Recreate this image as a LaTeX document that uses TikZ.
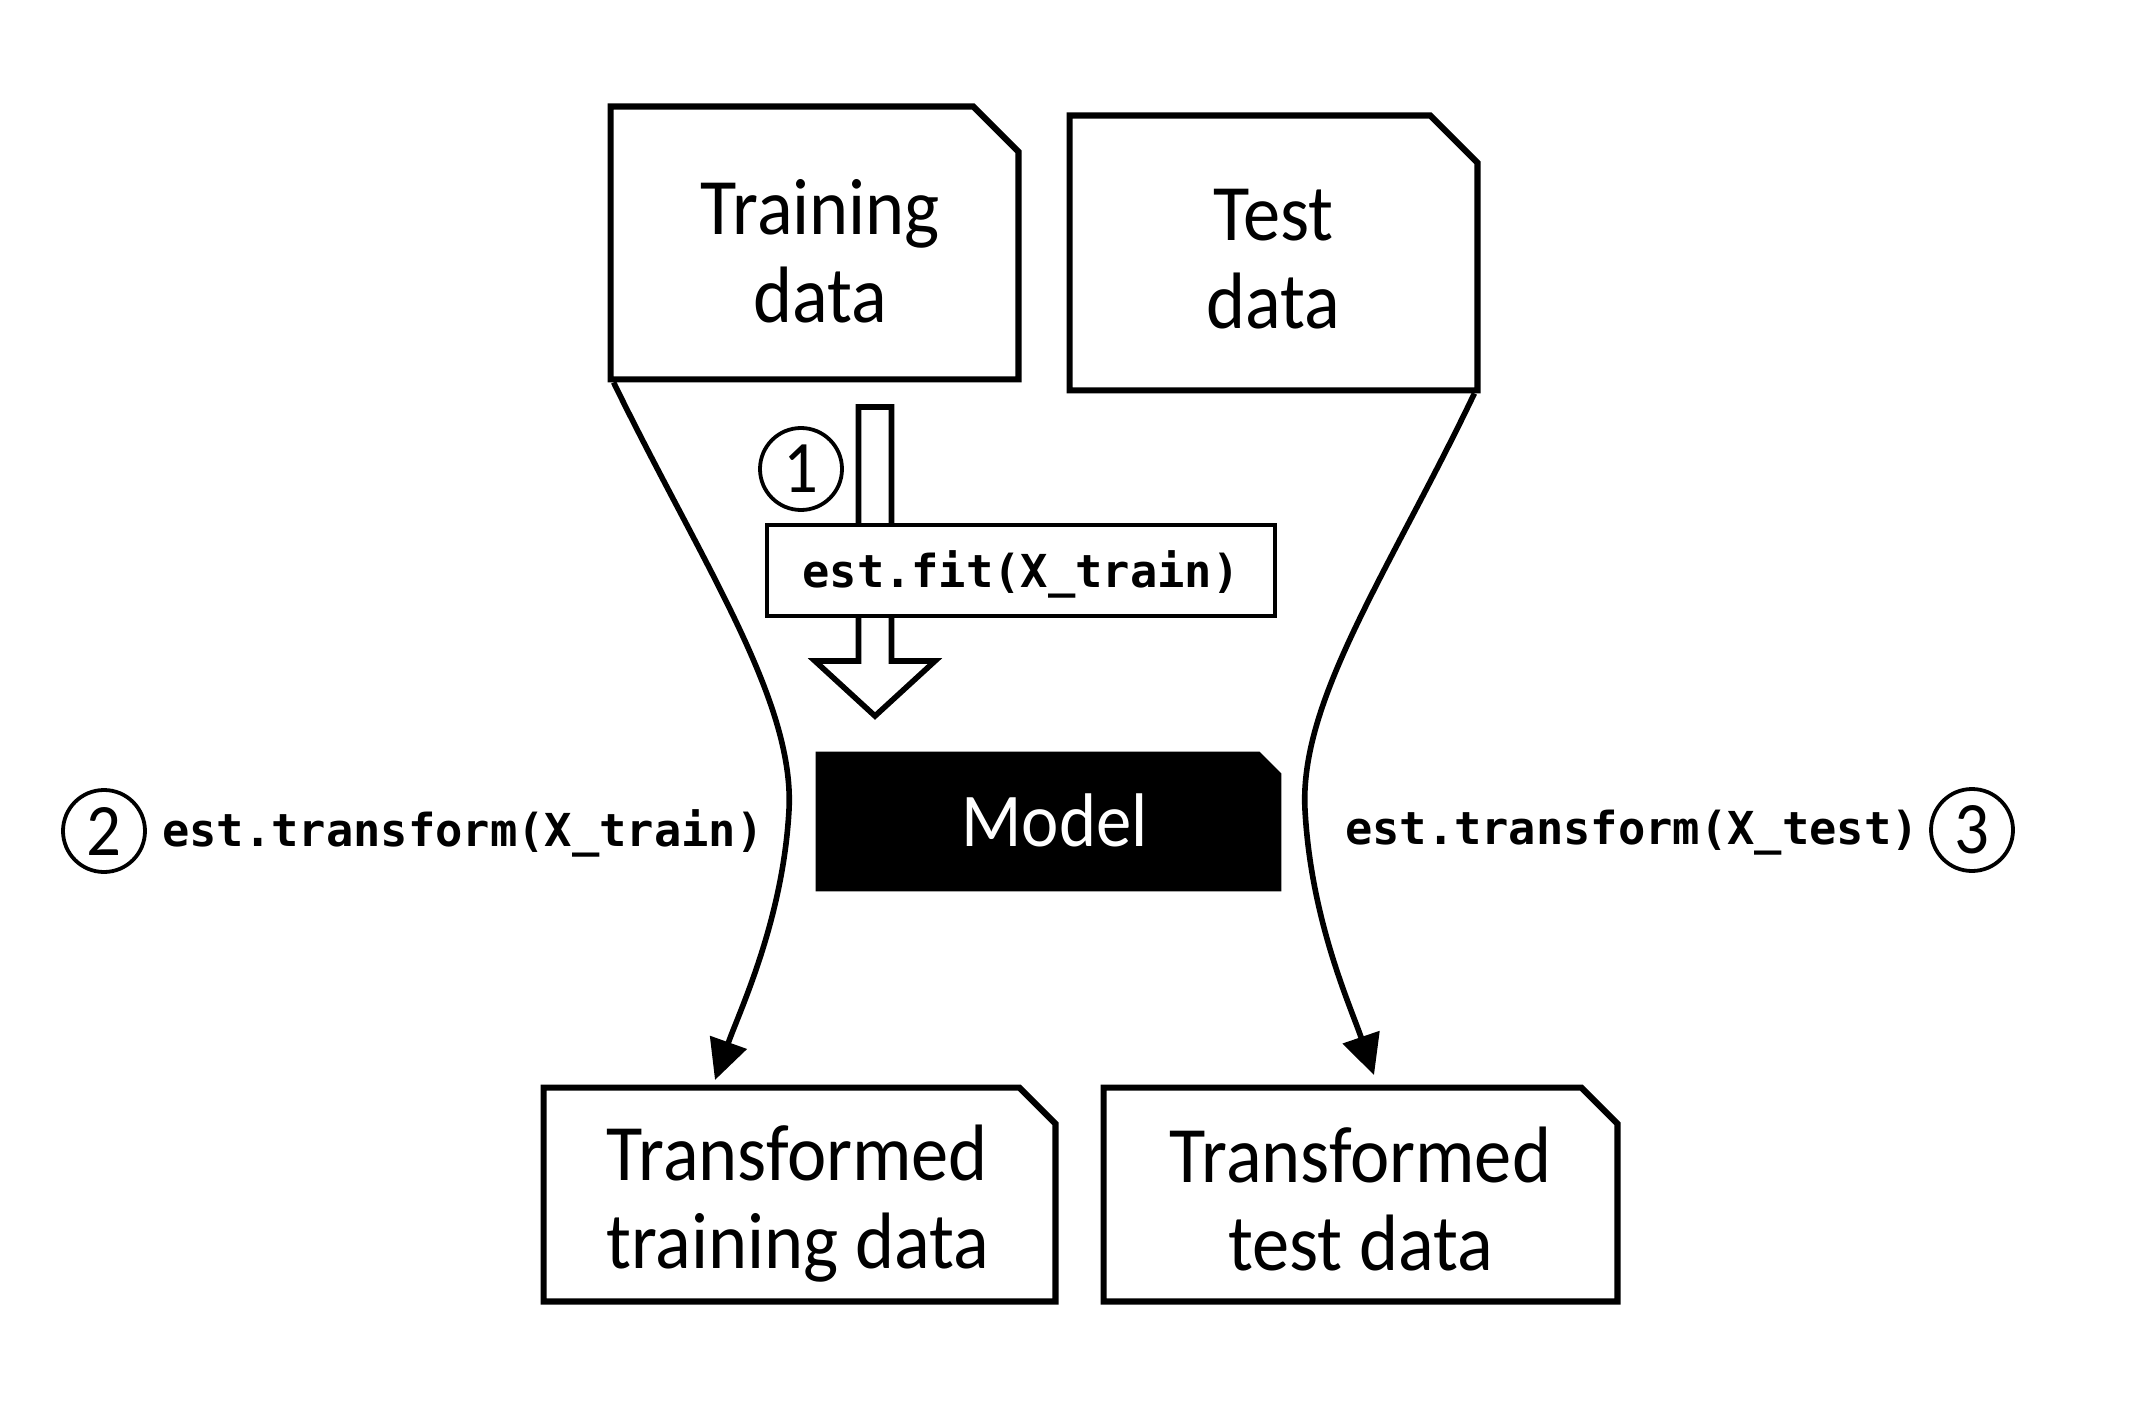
\documentclass[tikz,border=0pt]{standalone}
\usepackage{fontspec}
\setmainfont{Carlito}[FakeStretch=0.93]
\newfontfamily\codefont{DejaVu Sans Mono}
\usetikzlibrary{calc,arrows.meta,backgrounds}
\begin{document}
\begin{tikzpicture}[x=0.5pt,y=-0.5pt,
  boxline/.style={line width=3.1pt,line join=miter},
  shapebox/.style={inner sep=0pt},
  boxtext/.style={inner sep=0pt,align=center,font=\fontsize{40}{44}\selectfont},
  code/.style={inner sep=0pt,font=\codefont\bfseries\fontsize{22.7}{26}\selectfont},
  circ/.style={circle,draw,line width=1.9pt,minimum size=41pt,inner sep=0pt,font=\fontsize{37}{37}\selectfont},
  curve/.style={line width=2.8pt,-{Triangle[length=20pt,width=19pt]}},
  hollow/.style={line width=2.8pt,line join=miter,fill=white}
]
\useasboundingbox (0,0) rectangle (2143,1423);
\newcommand\cutbox[3]{\path[#3] (#1.south west) -- (#1.north west) -- ($(#1.north east)+(-#2,0)$) -- ($(#1.north east)+(0,#2)$) -- (#1.south east) -- cycle;}

% data boxes
\node[shapebox,minimum width=203.5pt,minimum height=136pt] (train) at (814.5,243) {};
\node[shapebox,minimum width=203.5pt,minimum height=137pt] (test) at (1273.5,253) {};
\node[shapebox,minimum width=232.5pt,minimum height=69.5pt] (model) at (1048.5,821.5) {};
\node[shapebox,minimum width=255.5pt,minimum height=106.5pt] (ttrain) at (799.5,1194.5) {};
\node[shapebox,minimum width=256.5pt,minimum height=106.5pt] (ttest) at (1360.5,1194.5) {};

\begin{scope}[on background layer]
\cutbox{train}{45}{draw,boxline}
\cutbox{test}{47}{draw,boxline}
\cutbox{model}{22}{fill=black}
\cutbox{ttrain}{36}{draw,boxline}
\cutbox{ttest}{36}{draw,boxline}
\end{scope}

\node[boxtext] (traintext) at ($(train.center)+(6,8)$) {Training\\data};
\node[boxtext] (testtext) at ($(test.center)+(0,6)$) {Test\\data};
\node[boxtext,text=white,font=\fontsize{38}{42}\selectfont] (modeltext) at ($(model.center)+(6,-1)$) {Model};
\node[boxtext] (ttraintext) at ($(ttrain.center)+(-2,9)$) {Transformed\\training data};
\node[boxtext] (ttesttext) at ($(ttest.center)+(0,5)$) {Transformed\\test data};

% hollow fit arrow
\coordinate (atop) at (875,407);
\coordinate (atip) at (875,716);
\draw[hollow] ($(atop)+(-16.5,0)$) -- ($(atop)+(16.5,0)$) -- ($(atip)+(16.5,-55)$) -- ($(atip)+(60,-55)$) -- (atip) -- ($(atip)+(-60,-55)$) -- ($(atip)+(-16.5,-55)$) -- cycle;
\node[code,draw,line width=2.4pt,fill=white,minimum width=254pt,minimum height=45.5pt] (fit) at (1021,570.5) {};
\node[code] (fittext) at ($(fit.center)+(0,4)$) {est.fit(X\_train)};
\node[circ] (n1) at (801,469) {1};

% transform curves
\coordinate (c1s) at ($(train.south west)+(3,3)$);
\coordinate (c1e) at (715,1080);
\draw[curve] (c1s) .. controls (700,560) and (795,700) .. (789,810) .. controls (783,920) and (740,1010) .. (c1e);
\coordinate (c2s) at ($(test.south east)+(-3,3)$);
\coordinate (c2e) at (1374,1075);
\draw[curve] (c2s) .. controls (1390,570) and (1299,700) .. (1305,810) .. controls (1311,920) and (1350,1005) .. (c2e);

% labels
\node[circ] (n2) at (104,831) {2};
\node[code] (l2) at (463,833) {est.transform(X\_train)};
\node[code] (l3) at (1632,833) {est.transform(X\_test)};
\node[circ] (n3) at (1972,830) {3};
\end{tikzpicture}
\end{document}
